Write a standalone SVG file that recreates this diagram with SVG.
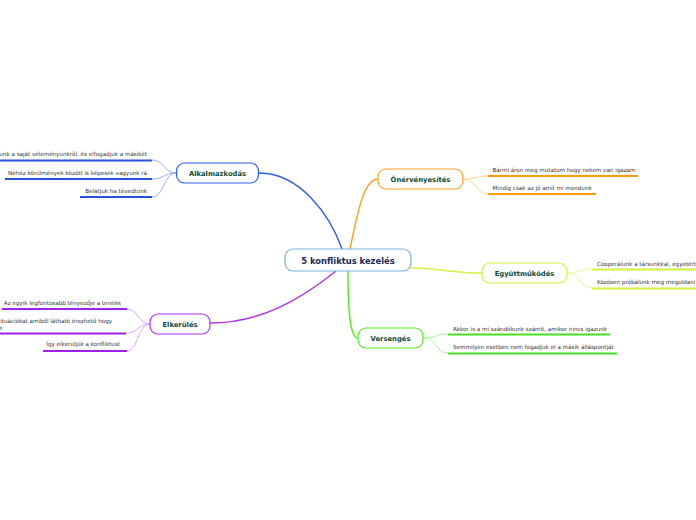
<svg xmlns="http://www.w3.org/2000/svg" width="696" height="520" viewBox="0 0 696 520">
<style>
.node rect{fill:#fff;stroke-width:1.2}
.lbl{font-family:"DejaVu Sans",Verdana,sans-serif;font-weight:bold;fill:#0e4a3a;text-anchor:middle}
.leaf{font-family:"DejaVu Sans",Verdana,sans-serif;font-size:5.6px;fill:#333}
.c{fill:none;stroke-width:1.4}
.l{fill:none;stroke-width:0.9}
.u{fill:none;stroke-width:1.8}
</style>
<rect width="696" height="520" fill="#fff"/>
<g id="connectors">
<path class="c" stroke="#2d5cf5" d="M259,173 C300,173 330,215 342,249"/>
<path class="c" stroke="#ffa020" d="M350,249 C358,210 364,179 378,179"/>
<path class="c" stroke="#d4f040" d="M410,268 C440,268 450,273 482,273"/>
<path class="c" stroke="#55ee22" d="M348,271 C348,312 350,338 358,338"/>
<path class="c" stroke="#b030f5" d="M336,271 C300,300 260,323 210,323"/>
<path class="l" stroke="#8aa6ff" d="M176,173 C164,173 164,160 152,160 M176,173 C164,173 164,179 152,179 M176,173 C164,173 164,197 152,197"/>
<path class="l" stroke="#ffcc80" d="M463,179 C476,179 476,176 488,176 M463,179 C476,179 476,194 488,194"/>
<path class="l" stroke="#e6f590" d="M567,273 C580,273 580,269 592,269 M567,273 C580,273 580,288 592,288"/>
<path class="l" stroke="#a0f090" d="M423,338 C436,338 436,334 448,334 M423,338 C436,338 436,353 448,353"/>
<path class="l" stroke="#d898ff" d="M150,324 C138,324 138,309 127,309 M150,324 C138,324 138,333 127,333 M150,324 C138,324 138,351 127,351"/>
</g>
<g id="n-center" class="node">
<rect x="285" y="249" width="126" height="22" rx="8" stroke="#7ab0e0"/>
<text class="lbl" x="348" y="264" font-size="8.4" style="fill:#1c2a55">5 konfliktus kezelés</text>
</g>
<g id="n-alkalmazkodas" class="node">
<rect x="176.5" y="163" width="82" height="20" rx="8" stroke="#2d5cf5"/>
<text class="lbl" x="217.5" y="176" font-size="6.8">Alkalmazkodás</text>
</g>
<g id="n-onervenyesites" class="node">
<rect x="378" y="169" width="85" height="20" rx="8" stroke="#ffa020"/>
<text class="lbl" x="420.5" y="182" font-size="6.8">Önérvényesítés</text>
</g>
<g id="n-egyuttmukodes" class="node">
<rect x="482" y="263" width="85" height="20" rx="8" stroke="#d4f040"/>
<text class="lbl" x="524.5" y="276" font-size="6.8">Együttműködés</text>
</g>
<g id="n-versenges" class="node">
<rect x="358" y="328" width="65" height="20" rx="8" stroke="#55ee22"/>
<text class="lbl" x="390.5" y="341" font-size="6.8">Versengés</text>
</g>
<g id="n-elkerules" class="node">
<rect x="150" y="314" width="60" height="20" rx="8" stroke="#b030f5"/>
<text class="lbl" x="180" y="327" font-size="6.8">Elkerülés</text>
</g>
<g id="leaves-alkalmazkodas">
<path class="u" stroke="#2850e0" d="M0,160.5 H152 M5,179 H152 M80,197 H152"/>
<text class="leaf" x="147" y="156" text-anchor="end">unk a saját véleményünkről, és elfogadjuk a másikét</text>
<text class="leaf" x="147" y="174.5" text-anchor="end">Nehéz körülmények között is képesek vagyunk rá</text>
<text class="leaf" x="147" y="192.5" text-anchor="end">Belátjuk ha tévedtünk</text>
</g>
<g id="leaves-onervenyesites">
<path class="u" stroke="#ff9a10" d="M488,176 H638 M488,194 H596"/>
<text class="leaf" x="492.5" y="172">Bármi áron meg mutatom hogy nekem van igazam</text>
<text class="leaf" x="492.5" y="190">Mindig csak az jó amit mi mondunk</text>
</g>
<g id="leaves-egyuttmukodes">
<path class="u" stroke="#d4f040" d="M592,269.5 H696 M592,288.5 H696"/>
<text class="leaf" x="597" y="265.5">Cooperálunk a társunkkal, egyetért</text>
<text class="leaf" x="597" y="284">Közösen próbálunk meg megoldani</text>
</g>
<g id="leaves-versenges">
<path class="u" stroke="#44e020" d="M448,334.5 H610 M448,353.5 H617"/>
<text class="leaf" x="453" y="330.5">Akkor is a mi szándékunk számít, amikor nincs igazunk</text>
<text class="leaf" x="453" y="349">Semmilyen esetben nem fogadjuk el a másik álláspontját</text>
</g>
<g id="leaves-elkerules">
<path class="u" stroke="#a020f0" d="M2,309 H127 M0,333.5 H126 M43,351 H127"/>
<text class="leaf" x="121" y="304.5" text-anchor="end">Az egyik legfontosabb tényezője a terelés</text>
<text class="leaf" x="112" y="323" text-anchor="end">ituációkat amiből látható érezhető hogy</text>
<text class="leaf" x="-1" y="329.5">e</text>
<text class="leaf" x="120" y="346" text-anchor="end">Így elkerüljük a konfliktust</text>
</g>
</svg>
